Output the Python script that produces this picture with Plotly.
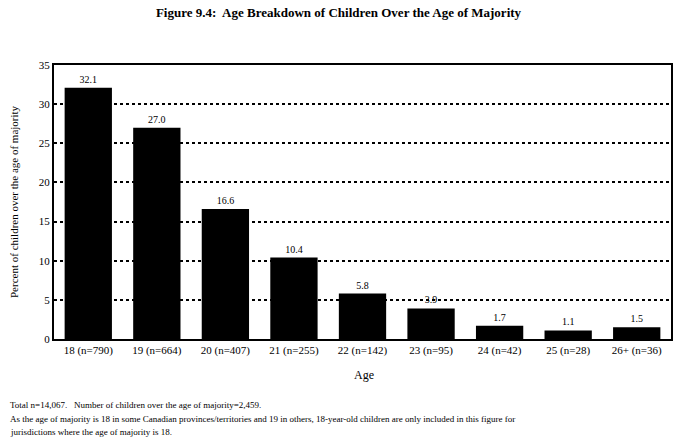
import plotly.graph_objects as go

categories = ["18 (n=790)", "19 (n=664)", "20 (n=407)", "21 (n=255)", "22 (n=142)",
              "23 (n=95)", "24 (n=42)", "25 (n=28)", "26+ (n=36)"]
values = [32.1, 27.0, 16.6, 10.4, 5.8, 3.9, 1.7, 1.1, 1.5]
value_labels = ["32.1", "27.0", "16.6", "10.4", "5.8", "3.9", "1.7", "1.1", "1.5"]
y_ticks = [0, 5, 10, 15, 20, 25, 30, 35]

FONT = "Liberation Serif, Times New Roman, serif"
W, H = 677, 437
ML, MR, MT, MB = 54, 6, 65, 98
PW, PH = W - ML - MR, H - MT - MB

def px_x(x):
    return (x - ML) / PW

def px_y(y):
    return (H - MB - y) / PH

fig = go.Figure()
fig.add_trace(go.Bar(
    x=categories, y=values, marker=dict(color="black", line=dict(width=0)),
    text=value_labels, textposition="outside", cliponaxis=False,
    textfont=dict(family=FONT, size=10, color="black"),
    width=0.69,
))

fig.update_layout(
    width=W, height=H,
    paper_bgcolor="white", plot_bgcolor="white",
    margin=dict(l=ML, r=MR, t=MT, b=MB, autoexpand=False),
    showlegend=False,
    font=dict(family=FONT, color="black", size=11),
    title=dict(text="<b>Figure 9.4:  Age Breakdown of Children Over the Age of Majority</b>",
               x=0.5, xanchor="center", y=1 - 12 / H, yanchor="middle",
               font=dict(family=FONT, size=13, color="black")),
    bargap=0.31,
)
fig.update_yaxes(
    range=[0, 35], tickvals=y_ticks, showgrid=True, gridcolor="black",
    griddash="3px,3px", gridwidth=2, automargin=False,
    showline=True, linecolor="black", linewidth=2, mirror=True,
    ticks="", ticklen=0, zeroline=False,
    tickfont=dict(family=FONT, size=11),
)
fig.update_xaxes(
    showline=True, linecolor="black", linewidth=2, mirror=True, automargin=False,
    ticks="", tickfont=dict(family=FONT, size=11),
)

fig.add_annotation(text="Percent of children over the age of majority", textangle=-90,
                   xref="paper", yref="paper", x=px_x(14), y=px_y(202),
                   xanchor="center", yanchor="middle", showarrow=False,
                   font=dict(family=FONT, size=11, color="black"))
fig.add_annotation(text="Age", xref="paper", yref="paper", x=px_x(364), y=px_y(375),
                   xanchor="center", yanchor="middle", showarrow=False,
                   font=dict(family=FONT, size=12, color="black"))

notes = [
    "Total n=14,067.   Number of children over the age of majority=2,459.",
    "As the age of majority is 18 in some Canadian provinces/territories and 19 in others, 18-year-old children are only included in this figure for",
    "jurisdictions where the age of majority is 18.",
]
for i, t in enumerate(notes):
    fig.add_annotation(text=t, xref="paper", yref="paper", x=px_x(8), xanchor="left",
                       y=px_y(405 + i * 13.5), yanchor="middle",
                       showarrow=False, font=dict(family=FONT, size=9, color="black"))

fig.write_html("out.html", config={"displayModeBar": False},
               post_script="document.body.style.margin='0';document.body.style.overflow='hidden';")
